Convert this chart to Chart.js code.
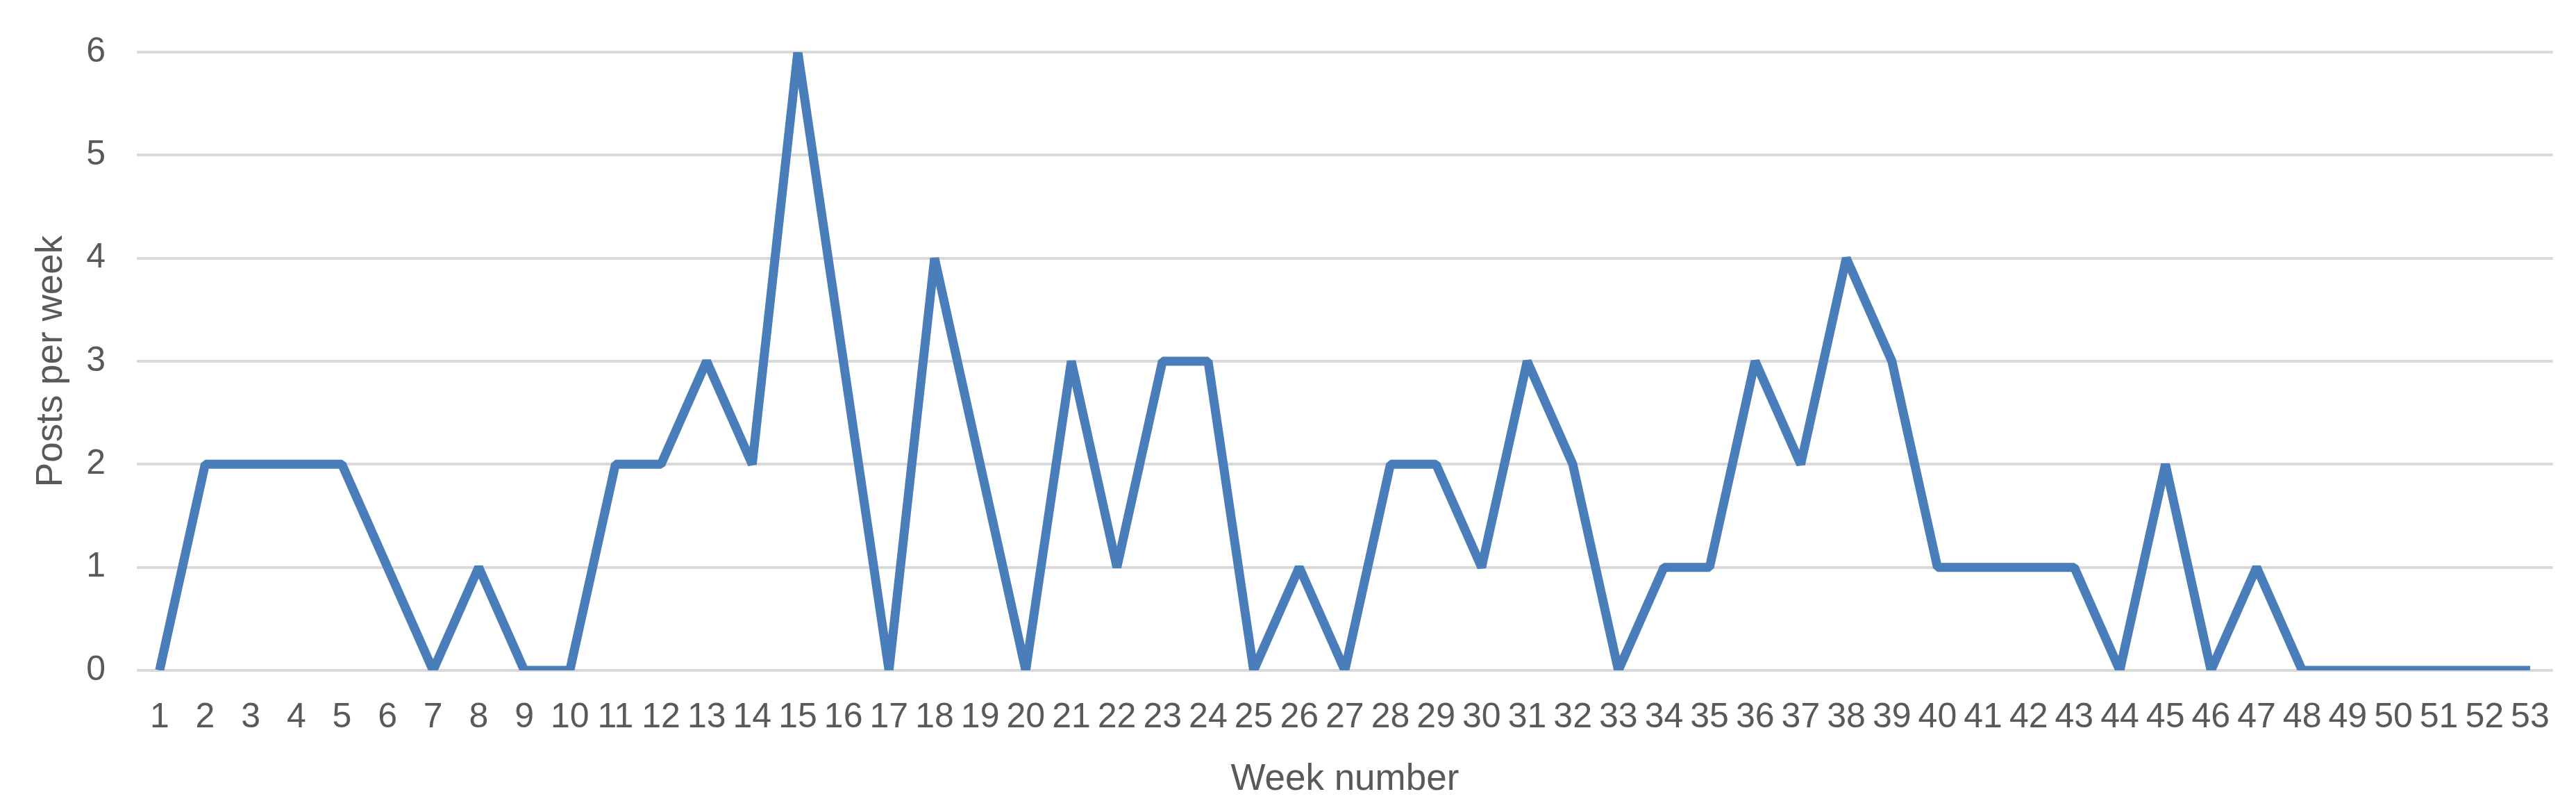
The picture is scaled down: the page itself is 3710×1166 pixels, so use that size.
<!DOCTYPE html>
<html>
<head>
<meta charset="utf-8">
<script src="https://cdn.jsdelivr.net/npm/chart.js@4/dist/chart.umd.min.js"></script>
<style>
  html, body { margin: 0; padding: 0; background: #ffffff; }
  #wrap { width: 3710px; height: 1166px; position: relative; }
</style>
</head>
<body>
<div id="wrap"><canvas id="c" width="3710" height="1166"></canvas></div>
<script>
const weeks = ["1","2","3","4","5","6","7","8","9","10","11","12","13","14","15","16","17","18","19","20","21","22","23","24","25","26","27","28","29","30","31","32","33","34","35","36","37","38","39","40","41","42","43","44","45","46","47","48","49","50","51","52","53"];
const postsPerWeek = [0,2,2,2,2,1,0,1,0,0,2,2,3,2,6,3,0,4,2,0,3,1,3,3,0,1,0,2,2,1,3,2,0,1,1,3,2,4,3,1,1,1,1,0,2,0,1,0,0,0,0,0,0];
const yTicks = [0,1,2,3,4,5,6];
const xTitle = "Week number";
const yTitle = "Posts per week";

const textColor = "#595959";
const fam = "'Liberation Sans', Arial, sans-serif";

new Chart(document.getElementById('c'), {
  type: 'line',
  data: {
    labels: weeks,
    datasets: [{
      data: postsPerWeek,
      borderColor: '#4A7EBB',
      backgroundColor: '#4A7EBB',
      borderWidth: 13,
      borderJoinStyle: 'bevel',
      pointRadius: 0,
      pointHoverRadius: 0,
      tension: 0,
      fill: false
    }]
  },
  options: {
    responsive: false,
    animation: false,
    devicePixelRatio: 1,
    layout: { padding: { left: 0, right: 30, top: 66, bottom: 0 } },
    plugins: { legend: { display: false }, tooltip: { enabled: false } },
    scales: {
      x: {
        type: 'category',
        offset: true,
        grid: { display: false, drawTicks: false },
        border: { display: false },
        ticks: {
          autoSkip: false, maxRotation: 0, minRotation: 0,
          color: textColor, padding: 38,
          font: { family: fam, size: 50 }
        },
        title: {
          display: true, text: xTitle, color: textColor,
          font: { family: fam, size: 53 },
          padding: { top: 0, bottom: 12 }
        },
        afterFit: (s) => { s.height = 201; }
      },
      y: {
        min: 0, max: 6,
        afterBuildTicks: (s) => { s.ticks = yTicks.map(v => ({ value: v })); },
        grid: { color: '#D9D9D9', lineWidth: 4, drawTicks: false },
        border: { display: false },
        ticks: {
          color: textColor, padding: 45,
          font: { family: fam, size: 50 }
        },
        title: {
          display: true, text: yTitle, color: textColor,
          font: { family: fam, size: 53 },
          padding: { top: 43, bottom: 0 }
        },
        afterFit: (s) => { s.width = 197; }
      }
    }
  }
});
</script>
</body>
</html>
